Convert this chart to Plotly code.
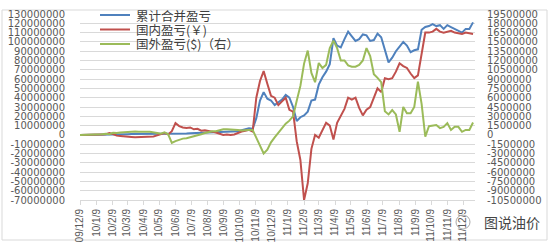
import pandas as pd
import plotly.graph_objects as go

# Weekly observation dates
dates = pd.date_range("2009-12-09", periods=108, freq="7D")

# 累计合并盈亏 (left axis, millions)
combined_mn = [0, 0, 0, 0, 0, 0, 0.2, 0.3, 0.5, 0.4, 0.3, 0.6, 0.8, 0.8, 0.9, 0.9, 0.8, 1.0, 1.0, 0.9,
               1.0, 0.8, 1.0, 1.2, 1.0, 1.3, 1.0, 1.5, 1.4, 1.6, 1.8, 2.0, 2.1, 2.4, 2.2, 2.6, 2.8, 2.5, 3.0, 3.2,
               3.4, 3.3, 3.6, 4.0, 5.0, 5.8, 7.0, 6.5, 18, 37, 46, 39, 37, 32, 35, 38, 43, 40, 30, 15,
               19, 21, 25, 37, 38, 54, 62, 68, 76, 104, 96, 94, 103, 111, 106, 101, 103, 108, 107, 101,
               102, 109, 105, 90, 78, 83, 90, 95, 100, 96, 89, 91, 92, 113, 116, 117, 119, 117, 118, 114,
               118, 116, 114, 112, 110, 114, 114, 121]

# 国内盈亏(￥) (left axis, millions)
domestic_mn = [0, 0, 0, 0, -0.3, 0, 0.3, 0.8, 2.0, 1.0, -0.8, -1.2, -1.8, -2.0, -2.2, -2.5, -2.3, -2.5, -2.2, -2.0,
               -1.8, -0.5, 1.0, 2.0, 0.5, 4.0, 12.6, 9.5, 8.0, 7.5, 8.0, 6.0, 6.5, 4.5, 5.0, 4.5, 3.5, 2.5, 1.0, 0,
               0.5, 0, 0.5, 2.5, 3.6, 4.5, 5.4, 3.6, 40, 58, 68.6, 55, 42, 40, 32, 36, 40, 27, 25, -7,
               -27, -70, -52, -15, 0, -3, 5, 13, 10, -5, 13, 20, 28, 40, 38, 40, 29, 21, 27, 30,
               41, 50, 46, 61, 60, 61, 68, 77, 74, 72, 66, 61, 64, 88, 110, 110, 111, 114, 111, 110,
               111, 112, 110, 109, 108.5, 110, 109, 108.5]

# 国外盈亏($)（右） (right axis, millions)
foreign_mn = [0, 0, 0, 0, 0, 0.05, 0.1, 0.2, 0.1, 0.35, 0.3, 0.4, 0.45, 0.5, 0.5, 0.55, 0.5, 0.55, 0.5, 0.5,
              0.45, 0.3, 0.2, 0.4, 0.1, -1.3, -1.0, -0.8, -0.6, -0.55, -0.4, -0.3, -0.15, 0.1, 0.3, 0.5, 0.6, 0.6, 0.8, 0.9,
              0.9, 0.9, 0.9, 0.8, 0.7, 0.8, 0.8, 0.8, -0.5, -1.9, -3.0, -2.4, -1.2, -0.4, 0.4, 1.2, 1.8, 2.3, 3.0, 5.5,
              7.9, 11.5, 13.6, 10, 8.5, 11.6, 10.8, 11.3, 14, 15.2, 14, 12, 12, 11.2, 11, 11, 11.3, 12, 14, 12.7,
              9.8, 9.2, 8.5, 3.8, 3.3, 4.0, 3.3, 0.5, 4.5, 3.5, 3.5, 4.5, 8.6, 5.0, -0.3, 1.4, 1.5, 1.6, 1.1, 1.3,
              1.9, 0.8, 1.3, 1.3, 0.5, 0.8, 0.8, 2.0]

series_names = ["累计合并盈亏", "国内盈亏(￥)", "国外盈亏($)（右）"]
colors = ["#4F81BD", "#C0504D", "#9BBB59"]

left_ticks = list(range(-70000000, 130000001, 10000000))
right_ticks = [i * 1500000 for i in range(-7, 14)]

W, H = 550, 243
ML, MR, MT, MB = 80, 75, 14, 43
PW, PH = W - ML - MR, H - MT - MB


def px(x):
    return (x - ML) / PW


def py(y):
    return (H - MB - y) / PH


fig = go.Figure()
fig.add_trace(go.Scatter(x=dates, y=[v * 1e6 for v in combined_mn], mode="lines",
                         line=dict(color=colors[0], width=2), name=series_names[0]))
fig.add_trace(go.Scatter(x=dates, y=[v * 1e6 for v in domestic_mn], mode="lines",
                         line=dict(color=colors[1], width=2), name=series_names[1]))
fig.add_trace(go.Scatter(x=dates, y=[v * 1e6 for v in foreign_mn], mode="lines",
                         line=dict(color=colors[2], width=2), name=series_names[2], yaxis="y2"))

num_font = dict(family="DejaVu Sans, sans-serif", size=10, color="#595959")

fig.update_layout(
    width=W, height=H, autosize=False,
    margin=dict(l=ML, r=MR, t=MT, b=MB),
    paper_bgcolor="white", plot_bgcolor="white",
    showlegend=False,
    xaxis=dict(type="date", range=["2009-12-09", "2011-12-31 18:00"],
               tick0="2009-12-09", dtick="M1", tickformat="%y/%-m/%-d",
               tickangle=-90, tickfont=dict(family="Liberation Sans, Arial, sans-serif", size=10, color="#595959"),
               showgrid=False, ticks="outside", ticklen=4, tickcolor="#D9D9D9",
               showline=True, linecolor="#D9D9D9", linewidth=1, zeroline=False, automargin=False),
    yaxis=dict(range=[-70000000, 130000000], tickvals=left_ticks, ticktext=[str(v) for v in left_ticks],
               tickfont=num_font, gridcolor="#D9D9D9", gridwidth=1, zeroline=False,
               showline=False, ticks="", ticklabelstandoff=14, automargin=False),
    yaxis2=dict(range=[-10500000, 19500000], tickvals=right_ticks, ticktext=[str(v) for v in right_ticks],
                tickfont=num_font, overlaying="y", side="right", showgrid=False, zeroline=False,
                showline=False, ticks="", ticklabelstandoff=11, automargin=False),
)

# Legend drawn in the top-left of the plot area
legend_rows = [15, 29.5, 44]
for name, col, yy in zip(series_names, colors, legend_rows):
    fig.add_shape(type="line", xref="paper", yref="paper", x0=px(100), x1=px(130), y0=py(yy), y1=py(yy),
                  line=dict(color=col, width=2))
    fig.add_annotation(text=name, xref="paper", yref="paper", x=px(134), y=py(yy), xanchor="left",
                       yanchor="middle", showarrow=False,
                       font=dict(family="Noto Sans CJK SC", size=12.5, color="#404040"))

# Chart area frame
fig.add_shape(type="rect", xref="paper", yref="paper", x0=px(2), x1=px(547), y0=py(240), y1=py(10),
              line=dict(color="#D9D9D9", width=1), layer="below")

# Watermark
fig.add_shape(type="circle", xref="paper", yref="paper", x0=px(456), x1=px(470), y0=py(229), y1=py(215),
              line=dict(color="#AAAAAA", width=1))
fig.add_annotation(text="图说油价", xref="paper", yref="paper", x=px(482), y=py(222), xanchor="left",
                   yanchor="middle", showarrow=False,
                   font=dict(family="Noto Sans CJK SC", size=14, color="#444444"))

fig.write_html("out.html")
